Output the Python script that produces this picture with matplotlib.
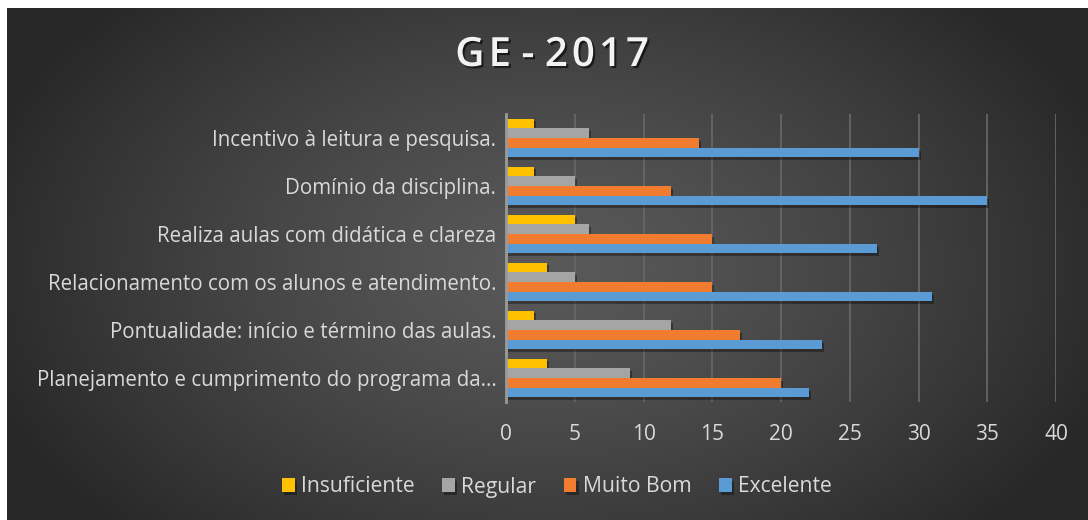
import numpy as np
import matplotlib
matplotlib.use("Agg")
import matplotlib.pyplot as plt
import matplotlib.patheffects as pe

categories = [
    "Planejamento e cumprimento do programa da...",
    "Pontualidade: início e término das aulas.",
    "Relacionamento com os alunos e atendimento.",
    "Realiza aulas com didática e clareza",
    "Domínio da disciplina.",
    "Incentivo à leitura e pesquisa.",
]
series_names = ["Insuficiente", "Regular", "Muito Bom", "Excelente"]
insuficiente = [3, 2, 3, 5, 2, 2]
regular = [9, 12, 5, 6, 5, 6]
muito_bom = [20, 17, 15, 15, 12, 14]
excelente = [22, 23, 31, 27, 35, 30]
xticks = [0, 5, 10, 15, 20, 25, 30, 35, 40]

colors = ["#FFC000", "#A5A5A5", "#F07C30", "#5B9BD5"]

plt.rcParams['font.family'] = ['Open Sans', 'DejaVu Sans']

W, H = 1088, 520
fig = plt.figure(figsize=(W / 100, H / 100), dpi=100, facecolor="white")

# background radial gradient
bg = fig.add_axes([7 / W, 0, 1 - 7 / W, 1 - 8 / H], zorder=0)
bg.set_axis_off()
ny, nx = 256, 540
yy, xx = np.mgrid[0:ny, 0:nx]
cx, cy = nx * 0.5, ny * 0.5
r = np.sqrt(((xx - cx) / (nx * 0.55)) ** 2 + ((yy - cy) / (ny * 0.75)) ** 2)
r = np.clip(r, 0, 1)
val = 0.35 - (0.35 - 0.155) * r ** 1.3
img = np.dstack([val, val, val])
bg.imshow(img, aspect="auto", extent=[0, 1, 0, 1], interpolation="bilinear")
bg.set_xlim(0, 1)
bg.set_ylim(0, 1)

ax = fig.add_axes([506 / W, (H - 402) / H, 550 / W, 288 / H], zorder=1)
ax.patch.set_alpha(0)

y = np.arange(len(categories))
h = 0.205
offsets = [1.5 * h, 0.5 * h, -0.5 * h, -1.5 * h]
data = [insuficiente, regular, muito_bom, excelente]
shadow = [pe.SimplePatchShadow(offset=(1.5, -2), shadow_rgbFace="black", alpha=0.35), pe.Normal()]
handles = []
for vals, off, col, name in zip(data, offsets, colors, series_names):
    bars = ax.barh(y + off, vals, height=h * 0.95, color=col, label=name, zorder=3)
    for b in bars:
        b.set_path_effects(shadow)
    handles.append(bars)

ax.set_xlim(0, 40)
ax.set_ylim(-0.5, len(categories) - 0.5)
ax.set_xticks(xticks)
ax.set_xticklabels([str(t) for t in xticks])
ax.set_yticks(y)
ax.set_yticklabels(categories)
ax.tick_params(axis="both", length=0, colors="#D9D9D9", labelsize=14.8)
ax.tick_params(axis="x", pad=16, labelsize=15)
ax.tick_params(axis="y", pad=7)
ax.grid(axis="x", color="#666666", linewidth=1.3, zorder=1)
for s in ["top", "right", "bottom"]:
    ax.spines[s].set_visible(False)
ax.spines["left"].set_color("#9A9A9A")
ax.spines["left"].set_linewidth(2)
ax.spines["left"].set_zorder(4)

hs = "\u200a"
title = hs.join("GE") + " - " + hs.join("2017")
fig.text(552 / W, 1 - 56 / H, title, ha="center", va="center",
         fontsize=29, fontweight="semibold", color="#F2F2F2",
         path_effects=[pe.withSimplePatchShadow(offset=(1.5, -1.5), shadow_rgbFace="black", alpha=0.6)])

leg = fig.legend(handles=handles, labels=series_names, loc="center",
                 bbox_to_anchor=(557 / W, 1 - 487 / H), ncol=4, frameon=False,
                 fontsize=15.2, handlelength=0.6, handleheight=0.6, handletextpad=0.3,
                 columnspacing=1.3, labelcolor="#D9D9D9")

fig.savefig("out.png", dpi=100, facecolor="white")
